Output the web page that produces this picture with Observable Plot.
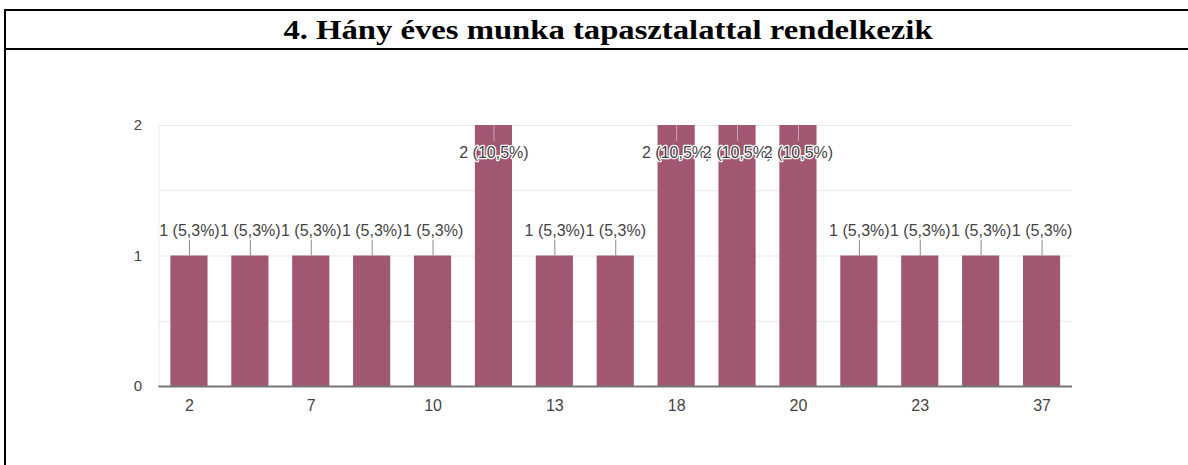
<!DOCTYPE html>
<html>
<head>
<meta charset="utf-8">
<script src="https://cdn.jsdelivr.net/npm/d3@7"></script>
<script src="https://cdn.jsdelivr.net/npm/@observablehq/plot@0.6"></script>
<style>
  html, body { margin: 0; padding: 0; background: #fff; width: 1188px; height: 465px; overflow: hidden; }
  #page { position: relative; width: 1188px; height: 465px; }
  .bl { position: absolute; background: #000; }
  #title { position: absolute; top: 11px; height: 37px; left: 608px; width: 0; overflow: visible;
           font-family: "Liberation Serif", "Times New Roman", serif; font-weight: bold; font-size: 27px;
           line-height: 38px; color: #000; white-space: nowrap; }
  #title span { position: absolute; left: 0; top: 0; transform: translateX(-50%) scaleX(1.21); transform-origin: center; display: inline-block; }
  #chart { position: absolute; left: 0; top: 50px; }
  #chart svg { background: transparent; overflow: visible; }
</style>
</head>
<body>
<div id="page">
  <div class="bl" style="left:4px; top:9px; width:1184px; height:2px;"></div>
  <div class="bl" style="left:4px; top:48px; width:1184px; height:2px;"></div>
  <div class="bl" style="left:4px; top:9px; width:2px; height:456px;"></div>
  <div id="title"><span>4. Hány éves munka tapasztalattal rendelkezik</span></div>
  <div id="chart"></div>
</div>
<script>
// Years of experience (categories), only every other label is printed on the axis
const categories = ["2", "5", "7", "8", "10", "12", "13", "15", "18", "19", "20", "22", "23", "30", "37"];
const counts     = [1, 1, 1, 1, 1, 2, 1, 1, 2, 2, 2, 1, 1, 1, 1];
const shownTicks = ["2", "7", "10", "13", "18", "20", "23", "37"];
const yTicks = [0, 1, 2];
const total = 19;

const data = categories.map((c, i) => ({
  cat: c,
  count: counts[i],
  label: `${counts[i]} (${(counts[i] / total * 100).toFixed(1).replace(".", ",")}%)`
}));

const maxCount = 2;
const plotHeight = 415, mTop = 75, mBottom = 79;
const pxPerUnit = (plotHeight - mTop - mBottom) / maxCount;
const lead = 16 / pxPerUnit;

const low = data.filter(d => d.count < maxCount);
const high = data.filter(d => d.count >= maxCount);

const chart = Plot.plot({
  width: 1188,
  height: plotHeight,
  marginLeft: 158.5,
  marginRight: 116,
  marginTop: mTop,
  marginBottom: mBottom,
  style: { fontFamily: "'Liberation Sans', Arial, sans-serif", background: "transparent" },
  x: { type: "band", domain: categories, paddingInner: 0.39, paddingOuter: 0.195, round: false, axis: null, label: null },
  y: { domain: [0, maxCount], axis: null, label: null },
  marks: [
    Plot.gridY([0.5, 1, 1.5, 2], { stroke: "#e8e8e8", strokeOpacity: 1 }),
    Plot.frame({ anchor: "left", stroke: "#ececec" }),
    Plot.barY(data, { x: "cat", y: "count", fill: "#a15672" }),
    Plot.ruleY([0], { stroke: "#777", strokeWidth: 2 }),
    Plot.ruleX(low, { x: "cat", y1: "count", y2: d => d.count + lead, stroke: "#8a8a8a", strokeWidth: 1 }),
    Plot.ruleX(high, { x: "cat", y1: "count", y2: d => d.count - lead, stroke: "#c9a9b6", strokeWidth: 1 }),
    Plot.text(low, { x: "cat", y: "count", text: "label", dy: -25.5, fontSize: 16, fill: "#444",
                     stroke: "white", strokeWidth: 3, textAnchor: "middle" }),
    Plot.text(high, { x: "cat", y: "count", text: "label", dy: 27, fontSize: 16, fill: "#444",
                      stroke: "white", strokeWidth: 2.5, textAnchor: "middle" }),
    Plot.axisY({ ticks: yTicks, tickFormat: d3.format("d"), tickSize: 0, tickPadding: 17, fontSize: 15, fill: "#444", label: null }),
    Plot.axisX({ ticks: shownTicks, tickSize: 0, tickPadding: 13, fontSize: 16, fill: "#444", label: null })
  ]
});
document.getElementById("chart").appendChild(chart);
</script>
</body>
</html>
